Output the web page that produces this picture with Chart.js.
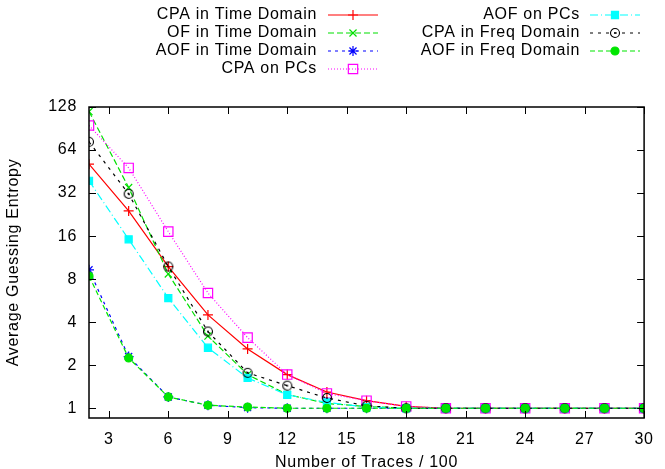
<!DOCTYPE html>
<html>
<head>
<meta charset="utf-8">
<script src="https://cdn.jsdelivr.net/npm/chart.js@4/dist/chart.umd.min.js"></script>
<style>
  html, body { margin: 0; padding: 0; background: #fff; }
  #wrap { width: 665px; height: 469px; }
</style>
</head>
<body>
<div id="wrap"><canvas id="geChart" width="665" height="469"></canvas></div>
<script>
// Number of traces (x 100)
const traces = [2, 4, 6, 8, 10, 12, 14, 16, 18, 20, 22, 24, 26, 28, 30];

// Average guessing entropy per method
const cpaTime = [51, 24, 9.8, 4.5, 2.6, 1.72, 1.3, 1.13, 1.03, 1, 1, 1, 1, 1, 1];
const ofTime  = [119, 35, 8.7, 3.2, 1.72, 1.25, 1.08, 1.03, 1.0, 1, 1, 1, 1, 1, 1];
const aofTime = [9.3, 2.3, 1.2, 1.05, 1.01, 1, 1, 1, 1, 1, 1, 1, 1, 1, 1];
const cpaPcs  = [95, 48, 17.2, 6.4, 3.12, 1.72, 1.27, 1.13, 1.03, 1, 1, 1, 1, 1, 1];
const aofPcs  = [39, 15.2, 5.9, 2.65, 1.63, 1.24, 1.1, 1.02, 1, 1, 1, 1, 1, 1, 1];
const cpaFreq = [73, 31.6, 9.8, 3.44, 1.77, 1.44, 1.18, 1.04, 1.0, 1, 1, 1, 1, 1, 1];
const aofFreq = [8.4, 2.25, 1.2, 1.05, 1.02, 1.0, 1, 1, 1, 1, 1, 1, 1, 1, 1];

const xTicks = [3, 6, 9, 12, 15, 18, 21, 24, 27, 30];
const yTicks = [1, 2, 4, 8, 16, 32, 64, 128];

const FONT = 'Liberation Sans, Arial, sans-serif';
const FSIZE = 16;
const SPACING = '0.7px';

// circle with a dot in the middle (gnuplot style marker)
const dotCircle = document.createElement('canvas');
dotCircle.width = 12; dotCircle.height = 12;
(function () {
  const c = dotCircle.getContext('2d');
  c.strokeStyle = '#000';
  c.lineWidth = 1.1;
  c.beginPath(); c.arc(6, 6, 4.5, 0, Math.PI * 2); c.stroke();
  c.fillStyle = '#000';
  c.beginPath(); c.arc(6, 6, 0.9, 0, Math.PI * 2); c.fill();
})();

const series = [
  { label: 'CPA in Time Domain', data: cpaTime, color: '#ff0000', dash: [], style: 'cross', r: 5, fill: false, col: 0, row: 0 },
  { label: 'OF in Time Domain', data: ofTime, color: '#00e000', dash: [6, 3], style: 'crossRot', r: 5, fill: false, col: 0, row: 1 },
  { label: 'AOF in Time Domain', data: aofTime, color: '#0000ff', dash: [3, 4], style: 'star', r: 5, fill: false, col: 0, row: 2 },
  { label: 'CPA on PCs', data: cpaPcs, color: '#ff00ff', dash: [1, 2], style: 'rect', r: 6.6, fill: false, col: 0, row: 3 },
  { label: 'AOF on PCs', data: aofPcs, color: '#00ffff', dash: [8, 3, 1, 3], style: 'rect', r: 5, fill: true, col: 1, row: 0 },
  { label: 'CPA in Freq Domain', data: cpaFreq, color: '#000000', dash: [3, 5], style: dotCircle, r: 5, fill: false, col: 1, row: 1 },
  { label: 'AOF in Freq Domain', data: aofFreq, color: '#00e600', dash: [5, 3], style: 'circle', r: 4, fill: true, col: 1, row: 2 }
];

const datasets = series.map((s, i) => ({
  label: s.label,
  data: s.data.map((v, k) => ({ x: traces[k], y: v })),
  borderColor: s.color,
  borderWidth: 1.2,
  borderDash: s.dash,
  pointStyle: s.style,
  pointRadius: s.r,
  pointBorderColor: s.color,
  pointBorderWidth: 1.2,
  pointBackgroundColor: s.fill ? s.color : 'rgba(0,0,0,0)',
  tension: 0,
  order: series.length - i
}));

// slightly wider text, like the gnuplot png
const spacingPlugin = {
  id: 'spacing',
  beforeInit(chart) { chart.ctx.letterSpacing = SPACING; },
  beforeDraw(chart) { chart.ctx.letterSpacing = SPACING; }
};

// gnuplot-like key at the top
const keyPlugin = {
  id: 'gnuKey',
  afterDraw(chart) {
    const ctx = chart.ctx;
    const textRight = [316, 579];
    const lineStart = [328, 590];
    const rowsY = [15, 33, 51, 69];
    ctx.save();
    ctx.font = FSIZE + 'px ' + FONT;
    ctx.letterSpacing = SPACING;
    ctx.textAlign = 'right';
    ctx.textBaseline = 'middle';
    series.forEach(s => {
      const y = rowsY[s.row];
      ctx.fillStyle = '#000';
      ctx.fillText(s.label, textRight[s.col] + 1, y);
      const x0 = lineStart[s.col], x1 = x0 + 50;
      ctx.strokeStyle = s.color;
      ctx.lineWidth = 1.2;
      ctx.setLineDash(s.dash);
      ctx.beginPath(); ctx.moveTo(x0, y); ctx.lineTo(x1, y); ctx.stroke();
      ctx.setLineDash([]);
      ctx.fillStyle = s.fill ? s.color : 'rgba(0,0,0,0)';
      Chart.helpers.drawPoint(ctx, { pointStyle: s.style, radius: s.r, borderWidth: 1.2, rotation: 0 }, (x0 + x1) / 2, y);
    });
    ctx.restore();
  }
};

// border box and inward ticks on all sides
const framePlugin = {
  id: 'frame',
  afterDraw(chart) {
    const { ctx, chartArea: a, scales } = chart;
    ctx.save();
    ctx.strokeStyle = '#000';
    ctx.lineWidth = 1.5;
    ctx.setLineDash([]);
    ctx.strokeRect(a.left, a.top, a.right - a.left, a.bottom - a.top);
    ctx.lineWidth = 1;
    ctx.beginPath();
    xTicks.forEach(v => {
      const x = Math.round(scales.x.getPixelForValue(v)) + 0.5;
      ctx.moveTo(x, a.bottom); ctx.lineTo(x, a.bottom - 7);
      ctx.moveTo(x, a.top); ctx.lineTo(x, a.top + 7);
    });
    yTicks.forEach(v => {
      const y = Math.round(scales.y.getPixelForValue(v)) + 0.5;
      ctx.moveTo(a.left, y); ctx.lineTo(a.left + 7, y);
      ctx.moveTo(a.right, y); ctx.lineTo(a.right - 7, y);
    });
    ctx.stroke();
    ctx.restore();
  }
};

new Chart(document.getElementById('geChart'), {
  type: 'line',
  data: { labels: traces, datasets: datasets },
  options: {
    responsive: false,
    animation: false,
    layout: { padding: { top: 107, right: 13, left: 0, bottom: 0 } },
    plugins: { legend: { display: false }, tooltip: { enabled: false } },
    scales: {
      x: {
        type: 'linear',
        min: 2,
        max: 30,
        afterBuildTicks: s => { s.ticks = xTicks.map(v => ({ value: v })); },
        afterFit: s => { s.height = 51; },
        grid: { display: false, drawTicks: false },
        border: { display: false },
        ticks: { color: '#000', padding: 12, maxRotation: 0, font: { family: FONT, size: FSIZE } },
        title: { display: true, text: 'Number of Traces / 100', color: '#000', padding: { top: 2, bottom: -3 }, font: { family: FONT, size: FSIZE } }
      },
      y: {
        type: 'logarithmic',
        min: 0.855,
        max: 128,
        afterBuildTicks: s => { s.ticks = yTicks.map(v => ({ value: v })); },
        afterFit: s => { s.width = 89; },
        grid: { display: false, drawTicks: false },
        border: { display: false },
        ticks: { color: '#000', padding: 12, font: { family: FONT, size: FSIZE }, callback: v => String(v) },
        title: { display: true, text: 'Average Guessing Entropy', color: '#000', padding: { top: 4, bottom: 0 }, font: { family: FONT, size: FSIZE } }
      }
    }
  },
  plugins: [spacingPlugin, keyPlugin, framePlugin]
});
</script>
</body>
</html>
